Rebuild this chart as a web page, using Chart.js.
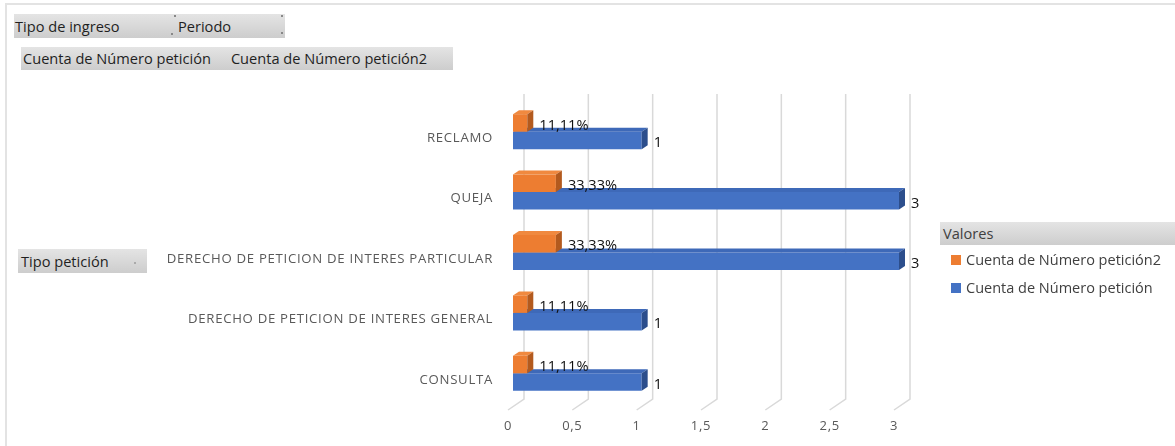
<!DOCTYPE html>
<html>
<head>
<meta charset="utf-8">
<script src="https://cdn.jsdelivr.net/npm/chart.js@4"></script>
<style>
  html, body { margin:0; padding:0; background:#fff; }
  #wrap { position:relative; width:1175px; height:446px; overflow:hidden; font-family:"Open Sans", "Noto Sans", sans-serif; }
  #c { position:absolute; left:0; top:0; }
  .frame-top { position:absolute; left:5px; top:3px; width:1170px; height:2px; background:#e3e3e3; }
  .frame-left { position:absolute; left:5px; top:3px; width:2px; height:443px; background:#e3e3e3; }
  .btn { position:absolute; box-sizing:border-box; background:linear-gradient(#e4e4e4,#cdcdcd); color:#1f1f1f; font-size:14.6px; line-height:24px; white-space:nowrap; }
  .dot { position:absolute; width:2px; height:2px; background:#888; }
  .leg-head { position:absolute; left:940px; top:222px; width:235px; height:23px; background:linear-gradient(#e4e4e4,#cdcdcd); color:#404040; font-size:14.6px; line-height:23px; padding-left:3px; box-sizing:border-box; }
  .leg-item { position:absolute; left:951px; font-size:14.5px; color:#404040; line-height:18px; white-space:nowrap; }
  .leg-item span.sw { display:inline-block; width:10px; height:10px; margin-right:5px; vertical-align:0px; }
</style>
</head>
<body>
<div id="wrap">
  <canvas id="c" width="1175" height="446"></canvas>
  <div class="frame-top"></div>
  <div class="frame-left"></div>
  <div class="btn" style="left:14px;top:14px;width:158px;height:24px;padding-left:1px;">Tipo de ingreso</div>
  <div class="btn" style="left:172px;top:14px;width:113px;height:24px;padding-left:6px;">Periodo</div>
  <div class="dot" style="left:174px;top:15px;"></div>
  <div class="dot" style="left:171px;top:33px;"></div>
  <div class="dot" style="left:281px;top:15px;"></div>
  <div class="dot" style="left:281px;top:32px;"></div>
  <div class="btn" id="cuentaBtn" style="left:21px;top:47px;width:432px;height:23px;line-height:23px;padding-left:2px;"></div>
  <div class="btn" style="left:18px;top:249px;width:129px;height:24px;padding-left:3px;">Tipo petición</div>
  <div class="dot" style="left:134px;top:262px;background:#aaa;"></div>
  <div class="leg-head">Valores</div>
  <div id="legend"></div>
</div>
<script>
// ---- data ----
const categories = [
  'RECLAMO',
  'QUEJA',
  'DERECHO DE PETICION DE INTERES PARTICULAR',
  'DERECHO DE PETICION DE INTERES GENERAL',
  'CONSULTA'
];
const shareValues = [0.1111, 0.3333, 0.3333, 0.1111, 0.1111];   // Cuenta de Número petición2 (% of total)
const countValues = [1, 3, 3, 1, 1];                              // Cuenta de Número petición
const seriesNames = ['Cuenta de Número petición2', 'Cuenta de Número petición'];
const valueFieldNames = ['Cuenta de Número petición', 'Cuenta de Número petición2'];
const xTickValues = [0, 0.5, 1, 1.5, 2, 2.5, 3];

// ---- colours / styles ----
const frontColors = ['#ED7D31', '#4472C4'];
const topColors   = ['#F0893F', '#3E69B8'];
const sideColors  = ['#B35A1E', '#2C4E8C'];

// HTML pieces built from the arrays
document.getElementById('cuentaBtn').innerHTML =
  valueFieldNames[0] + '<span style="display:inline-block;width:20px"></span>' + valueFieldNames[1];
const legendEl = document.getElementById('legend');
seriesNames.forEach((n, i) => {
  const d = document.createElement('div');
  d.className = 'leg-item';
  d.style.top = (251 + i * 28) + 'px';
  d.innerHTML = '<span class="sw" style="background:' + frontColors[i] + '"></span>' + n;
  legendEl.appendChild(d);
});

const BAR_DX = 5, BAR_DY = -6.5;   // bar plane offset (pseudo 3D)
const DEPTH_X = 6, DEPTH_Y = -4;    // bar depth
const WALL_DX = 16, WALL_DY = -11;  // back wall offset

const fmtTick = v => String(v).replace('.', ',');
const fmtShare = v => (v * 100).toFixed(2).replace('.', ',') + '%';

const pseudo3d = {
  id: 'pseudo3d',
  beforeDraw(chart) {
    chart.ctx.letterSpacing = '0.7px';
  },
  beforeDatasetsDraw(chart) {
    const ctx = chart.ctx, xs = chart.scales.x, area = chart.chartArea;
    ctx.letterSpacing = '0px';
    ctx.save();
    ctx.strokeStyle = '#d9d9d9';
    ctx.lineWidth = 1.5;
    xTickValues.forEach(v => {
      const x = xs.getPixelForValue(v);
      ctx.beginPath();
      ctx.moveTo(x + WALL_DX, area.top - 14);
      ctx.lineTo(x + WALL_DX, area.bottom + WALL_DY);
      ctx.lineTo(x, area.bottom);
      ctx.stroke();
    });
    ctx.restore();
  },
  beforeDatasetDraw(chart) {
    chart.ctx.save();
    chart.ctx.translate(BAR_DX, BAR_DY);
  },
  afterDatasetDraw(chart, args) {
    const ctx = chart.ctx;
    const i = args.index;
    const meta = chart.getDatasetMeta(i);
    meta.data.forEach(el => {
      const p = el.getProps(['x', 'y', 'base', 'height'], true);
      const x0 = Math.min(p.base, p.x), x1 = Math.max(p.base, p.x);
      const yT = p.y - p.height / 2, yB = p.y + p.height / 2;
      ctx.fillStyle = topColors[i];
      ctx.beginPath();
      ctx.moveTo(x0, yT); ctx.lineTo(x1, yT);
      ctx.lineTo(x1 + DEPTH_X, yT + DEPTH_Y); ctx.lineTo(x0 + DEPTH_X, yT + DEPTH_Y);
      ctx.closePath(); ctx.fill();
      ctx.fillStyle = sideColors[i];
      ctx.beginPath();
      ctx.moveTo(x1, yT); ctx.lineTo(x1 + DEPTH_X, yT + DEPTH_Y);
      ctx.lineTo(x1 + DEPTH_X, yB + DEPTH_Y); ctx.lineTo(x1, yB);
      ctx.closePath(); ctx.fill();
    });
    ctx.restore();
  },
  afterDatasetsDraw(chart) {
    const ctx = chart.ctx;
    ctx.save();
    ctx.letterSpacing = '0px';
    ctx.font = '14.6px "Open Sans", sans-serif';
    ctx.fillStyle = '#111';
    ctx.textAlign = 'left';
    ctx.textBaseline = 'middle';
    chart.data.datasets.forEach((ds, i) => {
      const meta = chart.getDatasetMeta(i);
      meta.data.forEach((el, j) => {
        const p = el.getProps(['x', 'y'], true);
        const txt = i === 0 ? fmtShare(ds.data[j]) : fmtTick(ds.data[j]);
        ctx.fillText(txt, p.x + BAR_DX + 12, p.y + BAR_DY + 2.5);
      });
    });
    ctx.restore();
  }
};

new Chart(document.getElementById('c'), {
  type: 'bar',
  data: {
    labels: categories,
    datasets: [
      { label: seriesNames[0], data: shareValues, backgroundColor: frontColors[0], clip: false },
      { label: seriesNames[1], data: countValues, backgroundColor: frontColors[1], clip: false }
    ]
  },
  options: {
    indexAxis: 'y',
    responsive: false,
    devicePixelRatio: 1,
    animation: false,
    layout: { padding: { top: 108, right: 281, left: 0, bottom: 0 } },
    categoryPercentage: 0.58,
    barPercentage: 1,
    plugins: { legend: { display: false }, tooltip: { enabled: false } },
    scales: {
      x: {
        min: 0, max: 3,
        afterBuildTicks: s => { s.ticks = xTickValues.map(v => ({ value: v })); },
        ticks: { callback: v => fmtTick(v), color: '#595959', font: { family: '"Open Sans", sans-serif', size: 13 }, padding: 8, maxRotation: 0 },
        grid: { display: false, drawTicks: false },
        border: { display: false },
        afterFit: s => { s.height = 36; }
      },
      y: {
        ticks: { color: '#595959', font: { family: '"Open Sans", sans-serif', size: 13.2 }, padding: 15, autoSkip: false },
        grid: { display: false, drawTicks: false },
        border: { display: false },
        afterFit: s => { s.width = 508; }
      }
    }
  },
  plugins: [pseudo3d]
});
</script>
</body>
</html>
